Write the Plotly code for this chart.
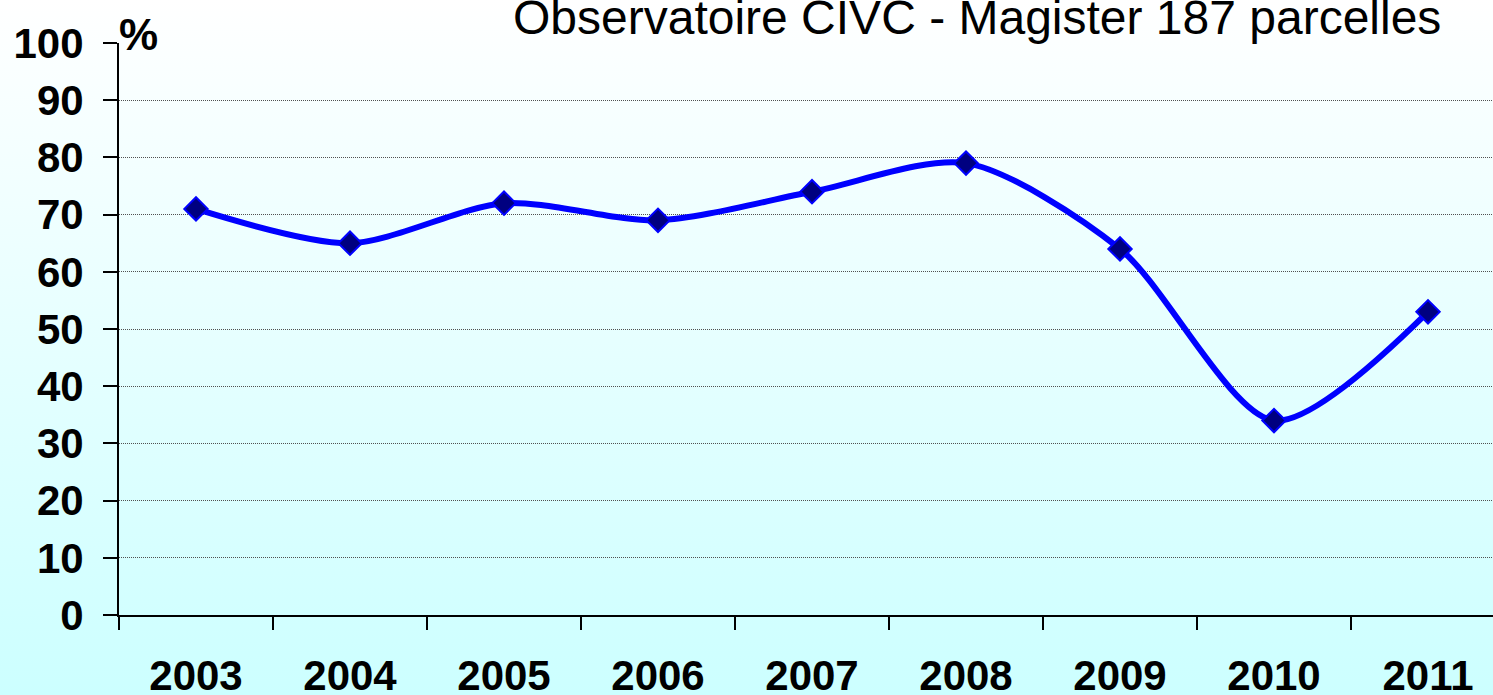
import base64
import plotly.graph_objects as go

years = ["2003", "2004", "2005", "2006", "2007", "2008", "2009", "2010", "2011"]
values = [71, 65, 72, 69, 74, 79, 64, 34, 53]
y_ticks = [0, 10, 20, 30, 40, 50, 60, 70, 80, 90, 100]
title_text = "Observatoire CIVC - Magister 187 parcelles"
unit_text = "%"

W, H = 1493, 695
ML, MR, MT, MB = 119, 0, 43, 80
cat_px = 154.0
plot_w = W - ML - MR
plot_h = H - MT - MB

svg = (
    '<svg xmlns="http://www.w3.org/2000/svg" width="100" height="100" preserveAspectRatio="none">'
    '<defs><linearGradient id="g" x1="0" y1="0" x2="0" y2="1">'
    '<stop offset="0" stop-color="#FFFFFF"/><stop offset="1" stop-color="#CCFFFF"/>'
    '</linearGradient></defs><rect width="100" height="100" fill="url(#g)"/></svg>'
)
bg_src = "data:image/svg+xml;base64," + base64.b64encode(svg.encode()).decode()

fig = go.Figure()
fig.add_trace(go.Scatter(
    x=years, y=values, mode="lines+markers",
    line=dict(color="#0000FF", width=6, shape="spline", smoothing=0.8),
    marker=dict(symbol="diamond", size=18, color="#000080",
                line=dict(color="#0000FF", width=2)),
    showlegend=False, hoverinfo="x+y",
))

font_main = "Arial, Liberation Sans, sans-serif"

fig.update_layout(
    width=W, height=H,
    margin=dict(l=ML, r=MR, t=MT, b=MB, pad=0),
    paper_bgcolor="rgba(0,0,0,0)",
    plot_bgcolor="rgba(0,0,0,0)",
    images=[dict(source=bg_src, xref="paper", yref="paper",
                 x=-ML / plot_w, y=1 + MT / plot_h,
                 sizex=W / plot_w, sizey=H / plot_h,
                 xanchor="left", yanchor="top", sizing="stretch", layer="below")],
    xaxis=dict(
        type="category", range=[-0.5, -0.5 + plot_w / cat_px],
        automargin=False,
        showline=True, linecolor="black", linewidth=2,
        ticks="outside", ticklen=13, tickwidth=2, tickcolor="black",
        tickson="boundaries", showgrid=False,
        tickfont=dict(family=font_main, size=42, color="black", weight="bold"),
        ticklabelstandoff=23,
    ),
    yaxis=dict(
        range=[0, 100], tickvals=y_ticks, automargin=False,
        showline=True, linecolor="black", linewidth=2,
        ticks="outside", ticklen=14, tickwidth=2, tickcolor="black",
        showgrid=True, gridcolor="#505050", gridwidth=1, griddash="1px,1px",
        zeroline=False,
        tickfont=dict(family=font_main, size=42, color="black", weight="bold"),
        ticklabelstandoff=11,
    ),
    annotations=[
        dict(text=title_text, xref="paper", yref="paper",
             x=(1443 - ML) / plot_w, y=1.0 - 3 / plot_h, xanchor="right", yanchor="bottom",
             showarrow=False, font=dict(family=font_main, size=48, color="black")),
        dict(text=unit_text, xref="paper", yref="paper",
             x=-2 / plot_w, y=1 - (61 - MT) / plot_h, xanchor="left", yanchor="bottom",
             showarrow=False,
             font=dict(family=font_main, size=44, color="black", weight="bold")),
    ],
)

fig.write_html("out.html", config={"displayModeBar": False},
               post_script="document.body.style.margin='0';document.body.style.overflow='hidden';")
